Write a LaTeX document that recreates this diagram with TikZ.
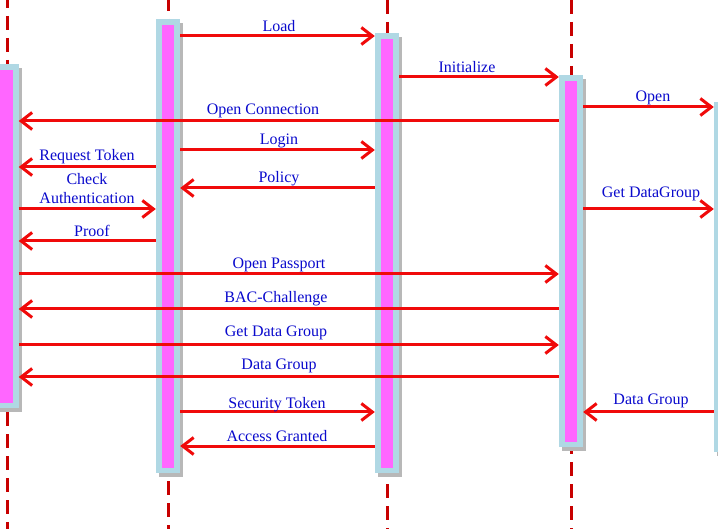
\documentclass[tikz,border=0pt]{standalone}
\usepackage{fontspec}
\setmainfont{Liberation Serif}
\usetikzlibrary{arrows.meta,shadows}
\definecolor{lb}{RGB}{176,216,228}
\definecolor{mg}{RGB}{255,102,255}
\definecolor{sh}{RGB}{184,184,184}
\definecolor{ll}{RGB}{200,0,0}
\definecolor{ar}{RGB}{240,10,10}
\definecolor{tx}{RGB}{10,10,205}
\tikzset{
 life/.style={ll, line width=3pt, dash pattern=on 14pt off 8pt},
 actbar/.style={rectangle, fill=lb, draw=none, minimum width=24pt, inner sep=0pt,
   drop shadow={shadow xshift=3pt, shadow yshift=-4pt, fill=sh, opacity=1}},
 msg/.style={ar, line width=3pt, -{Straight Barb[length=11pt,width=17pt]}},
 lbl/.style={tx, font=\fontsize{16}{19}\selectfont, inner sep=0pt, anchor=base},
}
\newcommand\magbar[1]{\fill[mg] ([xshift=6pt,yshift=-6pt]#1.north west) rectangle ([xshift=-6pt,yshift=5pt]#1.south east);}
\begin{document}
\begin{tikzpicture}[x=1pt,y=-1pt]
\useasboundingbox (0,0) rectangle (718,529);
\fill[white] (0,0) rectangle (718,529);
% lifelines
\coordinate (l1t) at (7,0);   \coordinate (l1b) at (7,529);
\coordinate (l2t) at (168,0); \coordinate (l2b) at (168,529);
\coordinate (l3t) at (387,0); \coordinate (l3b) at (387,529);
\coordinate (l4t) at (571,0); \coordinate (l4b) at (571,529);
\draw[life, dash phase=6pt] (l1t) -- (l1b);
\draw[life, dash phase=3pt] (l2t) -- (l2b);
\draw[life] (l3t) -- (l3b);
\draw[life] (l4t) -- (l4b);
% activation bars
\node[actbar, minimum height=344pt] (b1) at (6.5,236) {};
\node[actbar, minimum height=454pt] (b2) at (168,246) {};
\node[actbar, minimum height=440pt] (b3) at (387,253) {};
\node[actbar, minimum height=372pt] (b4) at (571,261) {};
\node[actbar, minimum height=350pt] (b5) at (726,277) {};
\magbar{b1}\magbar{b2}\magbar{b3}\magbar{b4}\magbar{b5}
% messages
\draw[msg] (b2.east |- 0,36) -- (b3.west |- 0,36);
\node[lbl] (t1) at (279,31.5) {Load};
\draw[msg] (b3.east |- 0,77) -- (b4.west |- 0,77);
\node[lbl] (t2) at (467,73) {Initialize};
\draw[msg] (b4.east |- 0,107) -- (b5.west |- 0,107);
\node[lbl] (t3) at (653,102) {Open};
\draw[msg] (b4.west |- 0,121) -- (b1.east |- 0,121);
\node[lbl] (t4) at (263,114.5) {Open Connection};
\draw[msg] (b2.east |- 0,150) -- (b3.west |- 0,150);
\node[lbl] (t5) at (279,144.5) {Login};
\draw[msg] (b2.west |- 0,167) -- (b1.east |- 0,167);
\node[lbl] (t6) at (87,161) {Request Token};
\draw[msg] (b3.west |- 0,188) -- (b2.east |- 0,188);
\node[lbl] (t7) at (279,183) {Policy};
\draw[msg] (b1.east |- 0,209) -- (b2.west |- 0,209);
\node[lbl, align=center, anchor=south] (t8) at (87,203.5) {Check\\Authentication};
\draw[msg] (b4.east |- 0,209) -- (b5.west |- 0,209);
\node[lbl] (t9) at (651,197.5) {Get DataGroup};
\draw[msg] (b2.west |- 0,241) -- (b1.east |- 0,241);
\node[lbl] (t10) at (92,236.5) {Proof};
\draw[msg] (b1.east |- 0,274) -- (b4.west |- 0,274);
\node[lbl] (t11) at (279,269) {Open Passport};
\draw[msg] (b4.west |- 0,309) -- (b1.east |- 0,309);
\node[lbl] (t12) at (276,303) {BAC-Challenge};
\draw[msg] (b1.east |- 0,345) -- (b4.west |- 0,345);
\node[lbl] (t13) at (276,337) {Get Data Group};
\draw[msg] (b4.west |- 0,377) -- (b1.east |- 0,377);
\node[lbl] (t14) at (279,370) {Data Group};
\draw[msg] (b5.west |- 0,412) -- (b4.east |- 0,412);
\node[lbl] (t15) at (651,405) {Data Group};
\draw[msg] (b2.east |- 0,412) -- (b3.west |- 0,412);
\node[lbl] (t16) at (277,409) {Security Token};
\draw[msg] (b3.west |- 0,446) -- (b2.east |- 0,446);
\node[lbl] (t17) at (277,441) {Access Granted};
\end{tikzpicture}
\end{document}
